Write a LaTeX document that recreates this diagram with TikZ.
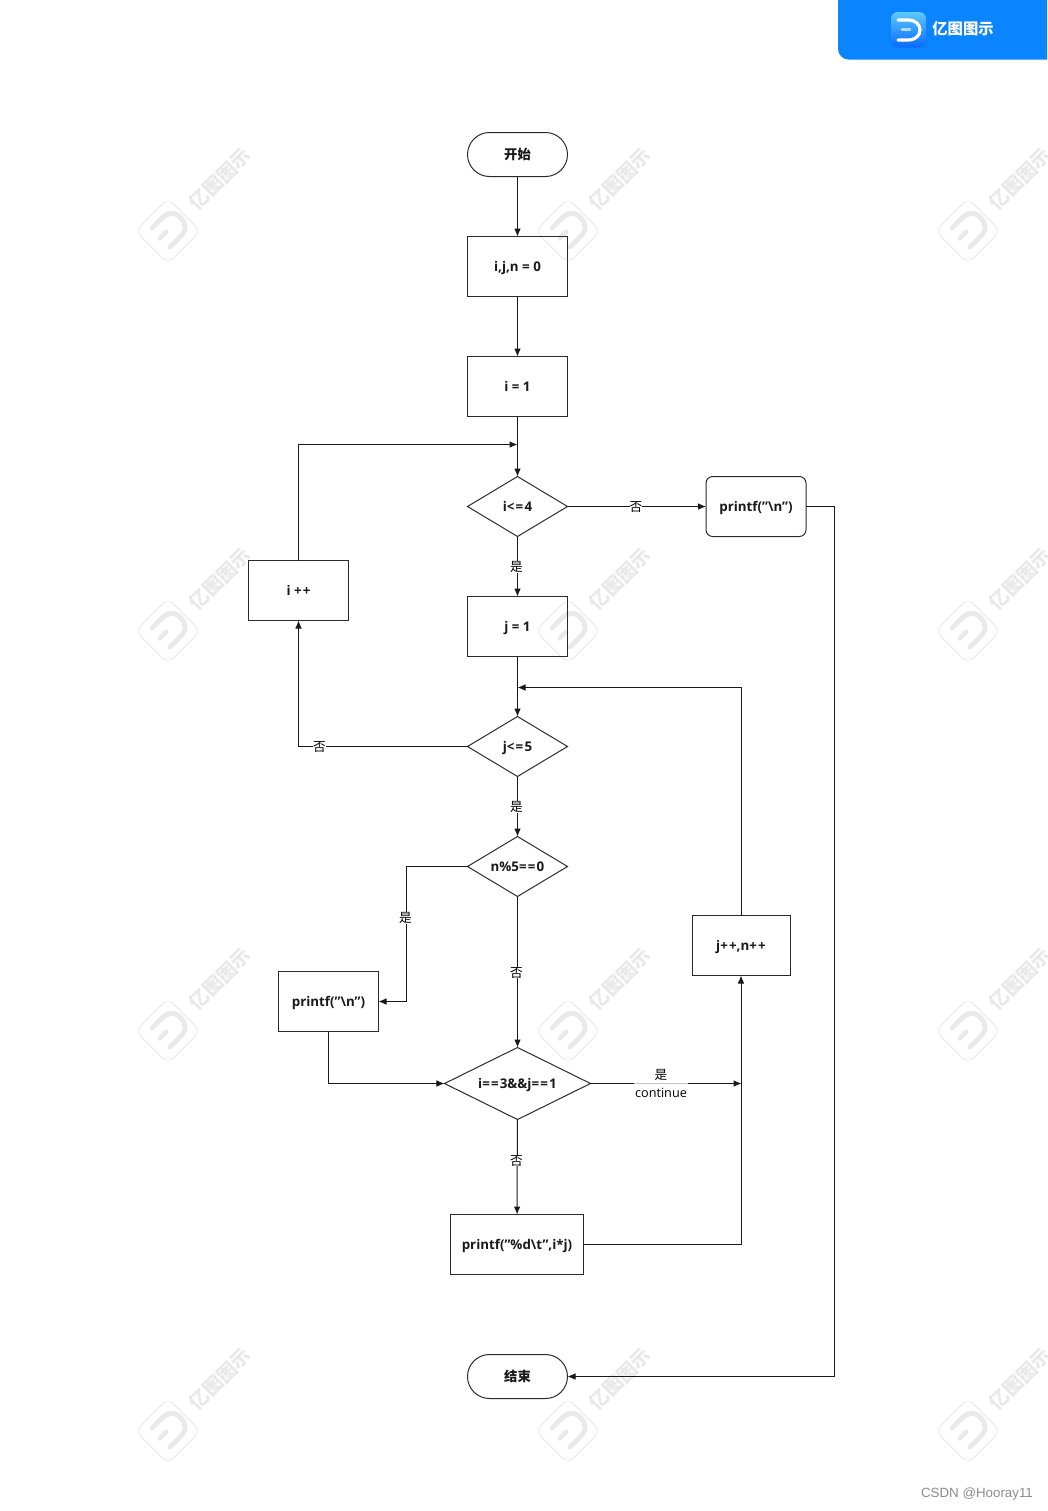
\documentclass[tikz,border=0pt]{standalone}
\usepackage{fontspec}
\setmainfont{Open Sans}
\newfontfamily\cjk{Noto Sans CJK SC}
\usetikzlibrary{arrows.meta,shapes.geometric}
\definecolor{markgray}{HTML}{E9E9E9}
\definecolor{barblue}{HTML}{0A84FF}
\definecolor{inkline}{HTML}{2A2A35}
\newcommand{\gap}{\kern.9pt}
\tikzset{
  boxtext/.style = {font=\fontsize{10pt}{11pt}\selectfont\bfseries, text=black!90, inner sep=0pt, outer sep=0pt, text height=10.2pt, text depth=2pt},
  procbox/.style = {boxtext, rectangle, draw=inkline, line width=.75pt, minimum width=75pt, minimum height=45pt},
  roundbox/.style = {procbox, rounded corners=5pt},
  termbox/.style = {procbox, rounded corners=16.5pt, minimum height=33pt},
  testbox/.style = {boxtext, diamond, draw=inkline, line width=.75pt, minimum width=75pt, minimum height=45pt, shape aspect=1.667},
  flow/.style = {draw=black!90, line width=.75pt, -{Latex[length=6pt,width=5pt]}},
  branch/.style = {font=\fontsize{9.5pt}{11pt}\selectfont\cjk, fill=white, inner sep=0pt}
}
\begin{document}
\begin{tikzpicture}[x=.75pt, y=-.75pt]
\useasboundingbox (0,0) rectangle (1047,1511);
\clip (0,0) rectangle (1047,1511);
\fill[white] (0,0) rectangle (1047,1511);
% watermark
\foreach \x in {168,568,968}
  \foreach \y in {231,631,1031,1431} {
    \begin{scope}[shift={(\x,\y)}]
      \node[draw=markgray, line width=.6pt, rounded corners=6pt, minimum size=34.5pt, rotate=45] (mark\x\y) at (0,0) {};
      \draw[markgray, line width=3.6pt, line cap=round] (-16,-3) -- (-5,-14) .. controls (2,-20) and (9,-18) .. (13,-13) .. controls (18,-7) and (19,-1) .. (13,5) -- (2,16);
      \draw[markgray, line width=3.6pt, line cap=round] (-8,7) -- (-2,1);
      \node[text=markgray, rotate=45, font=\fontsize{14.5pt}{16pt}\selectfont\cjk\bfseries] (name\x\y) at (52,-52) {亿图图示};
    \end{scope}
  }
% header
\fill[barblue, rounded corners=8pt] (838,-20) -- (838,59.5) -- (1070,59.5) -- (1070,-20) -- cycle;
\shade[top color=blue!30!cyan!60!white!90!barblue, bottom color=barblue!80!blue, rounded corners=5pt] (891,12) rectangle (926,47.5);
\draw[white, line width=2.4pt, line cap=round] (898,20) -- (908,20) .. controls (916,20) and (920,25) .. (920,30) .. controls (920,35) and (916,40) .. (908,40) -- (898,40);
\draw[white!70!barblue, line width=2.2pt, line cap=round] (902,29.5) -- (910,29.5);
\node[text=white, font=\fontsize{11.5pt}{13pt}\selectfont\cjk\bfseries, inner sep=0pt] (brand) at (963,29) {亿图图示};
\node[text=black!45, font=\fontsize{10pt}{12pt}\selectfont\fontspec{Liberation Sans}, inner sep=0pt] (credit) at (977,1494.5) {CSDN @Hooray11};

% nodes
\node[termbox] (start) at (517.5,154.5) {\cjk 开始};
\node[procbox] (init) at (517.5,266.5) {i,j,n = 0};
\node[procbox] (iset) at (517.5,386.5) {i = 1};
\node[testbox] (itest) at (517.5,506.5) {i<\gap=\gap4};
\node[roundbox] (newline) at (756,506.5) {printf(\symbol{34}\textbackslash n\symbol{34})};
\node[procbox] (jset) at (517.5,626.5) {j = 1};
\node[procbox] (iinc) at (298.5,590.5) {i +\gap+};
\node[testbox] (jtest) at (517.5,746.5) {j<\gap=\gap5};
\node[testbox] (ntest) at (517.5,866.5) {n\%5=\gap=\gap0};
\node[procbox] (rowend) at (328.5,1001.5) {printf(\symbol{34}\textbackslash n\symbol{34})};
\node[procbox, minimum width=73.5pt] (jinc) at (741,945.5) {j+\gap+,n+\gap+};
\node[testbox, minimum width=109.5pt, minimum height=54pt] (skip) at (517.5,1083.5) {i=\gap=\gap3\&\&j=\gap=\gap1};
\node[procbox, minimum width=99.75pt] (show) at (517,1244.5) {printf(\symbol{34}\%d\textbackslash t\symbol{34},i*j)};
\node[termbox] (stop) at (517.5,1376.5) {\cjk 结束};

% joins
\coordinate (imerge) at (517.5,444.5);
\coordinate (jmerge) at (517.5,687.5);
\coordinate (nknee) at (406.5,866.5);
\coordinate (incmerge) at (741.5,1083.5);
\coordinate (outer) at (834.5,506.5);

% connectors
\draw[flow] (start) -- (init);
\draw[flow] (init) -- (iset);
\draw[flow] (iset) -- (itest);
\draw[flow] (itest) -- (jset);
\draw[flow] (itest) -- (newline);
\draw[flow] (newline) -- (outer) |- (stop);
\draw[flow] (iinc) |- (imerge);
\draw[flow] (jset) -- (jtest);
\draw[flow] (jtest) -- (ntest);
\draw[flow] (jtest) -| (iinc);
\draw[flow] (ntest) -- (skip);
\draw[flow] (ntest) -- (nknee) |- (rowend);
\draw[flow] (rowend) |- (skip);
\draw[flow] (skip) -- (incmerge);
\draw[flow] (skip) -- (show);
\draw[flow] (show) -| (jinc);
\draw[flow] (jinc) |- (jmerge);

% branch labels
\node[branch] (l1) at (636,507.5) {否};
\node[branch] (l2) at (516.5,567) {是};
\node[branch] (l3) at (319.5,747.5) {否};
\node[branch] (l4) at (516.5,807) {是};
\node[branch] (l5) at (405.5,918) {是};
\node[branch] (l6) at (516.5,973) {否};
\node[branch] (l7) at (516.5,1161) {否};
\node[branch, fill opacity=.75, text opacity=1, align=center, text width=40pt, font=\fontsize{9.5pt}{13.5pt}\selectfont] (l8) at (661,1083.5) {{\cjk 是}\\continue};
\end{tikzpicture}
\end{document}
